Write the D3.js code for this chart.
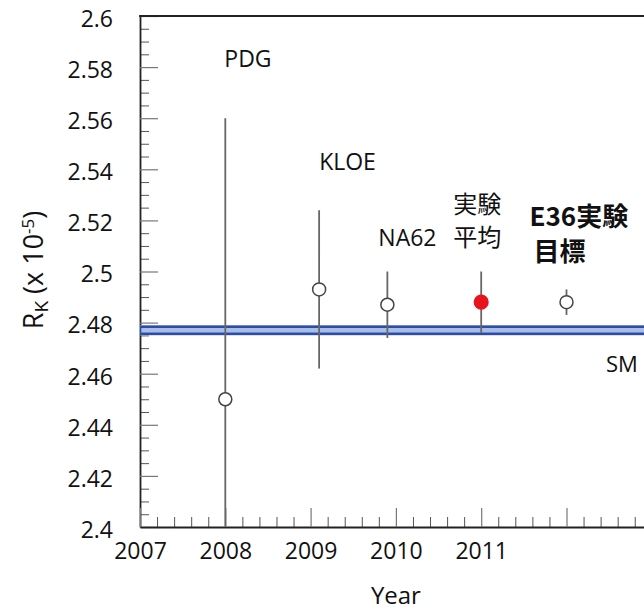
<!DOCTYPE html>
<html>
<head>
<meta charset="utf-8">
<script src="https://cdn.jsdelivr.net/npm/d3@7"></script>
<style>
  html, body { margin: 0; padding: 0; background: #fff; }
  svg { display: block; }
  text { font-family: "Open Sans", "Noto Sans", sans-serif; fill: #111; }
  .cjk { font-family: "Noto Sans CJK JP", "Open Sans", sans-serif; }
</style>
</head>
<body>
<div id="chart"></div>
<script>
// ---- data ----
const labels   = ["PDG", "KLOE", "NA62", "実験平均", "E36実験目標"];
const years    = [2008.0, 2009.1, 2009.9, 2011.0, 2012.0];
const values   = [2.450, 2.493, 2.487, 2.488, 2.488];
const errors   = [0.110, 0.031, 0.013, 0.012, 0.005];
const smValue  = 2.477;
const smError  = 0.0014;
const yTicks   = [2.4, 2.42, 2.44, 2.46, 2.48, 2.5, 2.52, 2.54, 2.56, 2.58, 2.6];
const yTickLabels = ["2.4", "2.42", "2.44", "2.46", "2.48", "2.5", "2.52", "2.54", "2.56", "2.58", "2.6"];
const xTicks   = [2007, 2008, 2009, 2010, 2011, 2012, 2013];
const xTickLabels = ["2007", "2008", "2009", "2010", "2011", "", ""];

const W = 644, H = 611;
const svg = d3.select("#chart").append("svg").attr("width", W).attr("height", H);

const x0 = 140, yTop = 16, yBot = 527;
const x = d3.scaleLinear().domain([2007, 2013.5]).range([x0, x0 + 6.5 * 85.3]);
const y = d3.scaleLinear().domain([2.4, 2.6]).range([yBot, yTop]);
const xEnd = x(2013.5);

// clip
svg.append("defs").append("clipPath").attr("id", "plot")
  .append("rect").attr("x", x0).attr("y", yTop).attr("width", xEnd - x0).attr("height", yBot - yTop);

// minor ticks
const yMinor = d3.range(0, 41).map(i => 2.4 + i * 0.005).filter((v, i) => i % 4 !== 0);
const xMinor = d3.range(0, 33).map(i => 2007 + i * 0.2).filter((v, i) => i % 5 !== 0);

const yMinorAxis = d3.axisLeft(y).tickValues(yMinor).tickSizeInner(-9).tickSizeOuter(0).tickFormat("");
const xMinorAxis = d3.axisBottom(x).tickValues(xMinor).tickSizeInner(-10).tickSizeOuter(0).tickFormat("");

svg.append("g").attr("transform", `translate(${x0},0)`).call(yMinorAxis)
  .call(g => g.select(".domain").remove())
  .call(g => g.selectAll("line").attr("stroke", "#555").attr("stroke-width", 1));
svg.append("g").attr("transform", `translate(0,${yBot})`).call(xMinorAxis)
  .call(g => g.select(".domain").remove())
  .call(g => g.selectAll("line").attr("stroke", "#555").attr("stroke-width", 1));

// major axes
const yAxis = d3.axisLeft(y).tickValues(yTicks).tickSizeInner(-18).tickSizeOuter(0).tickPadding(27)
  .tickFormat((d, i) => yTickLabels[i]);
const xAxis = d3.axisBottom(x).tickValues(xTicks).tickSizeInner(-19).tickSizeOuter(0).tickPadding(16)
  .tickFormat((d, i) => xTickLabels[i]);

const gy = svg.append("g").attr("transform", `translate(${x0},0)`).call(yAxis);
gy.select(".domain").attr("stroke", "#222").attr("stroke-width", 1.8);
gy.selectAll(".tick line").attr("stroke", "#777").attr("stroke-width", 1.2);
gy.selectAll(".tick text").attr("font-size", 23).attr("fill", "#111").attr("dy", "0.45em")
  .attr("font-family", "Open Sans, sans-serif");

const gx = svg.append("g").attr("transform", `translate(0,${yBot})`).call(xAxis);
gx.select(".domain").attr("stroke", "#222").attr("stroke-width", 1.8);
gx.selectAll(".tick line").attr("stroke", "#777").attr("stroke-width", 1.2);
gx.selectAll(".tick text").attr("font-size", 23).attr("fill", "#111")
  .attr("font-family", "Open Sans, sans-serif");

// top frame
svg.append("line").attr("x1", x0 - 0.9).attr("x2", xEnd).attr("y1", yTop).attr("y2", yTop)
  .attr("stroke", "#222").attr("stroke-width", 1.8);

const plot = svg.append("g").attr("clip-path", "url(#plot)");

// SM band
plot.append("rect")
  .attr("x", x0).attr("width", xEnd - x0)
  .attr("y", y(smValue + smError) - 1.5).attr("height", y(smValue - smError) - y(smValue + smError) + 3)
  .attr("fill", "#dce6f7");
plot.append("rect")
  .attr("x", x0).attr("width", xEnd - x0)
  .attr("y", y(smValue + smError)).attr("height", y(smValue - smError) - y(smValue + smError))
  .attr("fill", "#a9bde8").attr("stroke", "#2a4ea6").attr("stroke-width", 2.6);

// error bars
const pts = labels.map((l, i) => ({ l, yr: years[i], v: values[i], e: errors[i], i }));
plot.selectAll("line.err").data(pts).join("line").attr("class", "err")
  .attr("x1", d => x(d.yr)).attr("x2", d => x(d.yr))
  .attr("y1", d => y(d.v + d.e)).attr("y2", d => y(d.v - d.e))
  .attr("stroke", "#666").attr("stroke-width", 1.8);

plot.selectAll("circle.pt").data(pts).join("circle").attr("class", "pt")
  .attr("cx", d => x(d.yr)).attr("cy", d => y(d.v))
  .attr("r", d => d.i === 3 ? 6.8 : 6.5)
  .attr("fill", d => d.i === 3 ? "#e8141c" : "#fff")
  .attr("stroke", d => d.i === 3 ? "#e8141c" : "#444")
  .attr("stroke-width", 1.5);

// labels
function addText(t, xx, yy, size) {
  return svg.append("text").attr("x", xx).attr("y", yy).attr("font-size", size).text(t);
}
function addTwoLine(l1, l2, xx, yy, size, gap, dx2, bold) {
  const el = svg.append("text").attr("class", "cjk").attr("x", xx).attr("y", yy).attr("font-size", size);
  if (bold) el.attr("font-weight", 700);
  el.append("tspan").attr("x", xx).attr("y", yy).text(l1);
  el.append("tspan").attr("x", xx + dx2).attr("y", yy + gap).text(l2);
  return el;
}
addText(labels[0], x(years[0]) - 1, 67, 23);
addText(labels[1], x(years[1]) , 170, 23);
addText(labels[2], x(years[2]) - 9, 246, 23);
addTwoLine("実験", "平均", x(years[3]) - 28, 213, 24, 33, 0, false);
addTwoLine("E36実験", "目標", x(years[4]) - 37, 226, 26, 35, 4, true);
addText("SM", 606, 372, 22);

// axis titles
svg.append("text").attr("x", x(2010)).attr("y", 604).attr("text-anchor", "middle")
  .attr("font-size", 24).text("Year");

const yt = svg.append("text").attr("transform", "translate(43,270) rotate(-90)")
  .attr("text-anchor", "middle").attr("font-size", 27);
yt.append("tspan").text("R");
yt.append("tspan").attr("font-size", 19).attr("baseline-shift", "-28%").text("K");
yt.append("tspan").text(" (x 10");
yt.append("tspan").attr("font-size", 17).attr("baseline-shift", "55%").text("-5");
yt.append("tspan").text(")");
</script>
</body>
</html>
